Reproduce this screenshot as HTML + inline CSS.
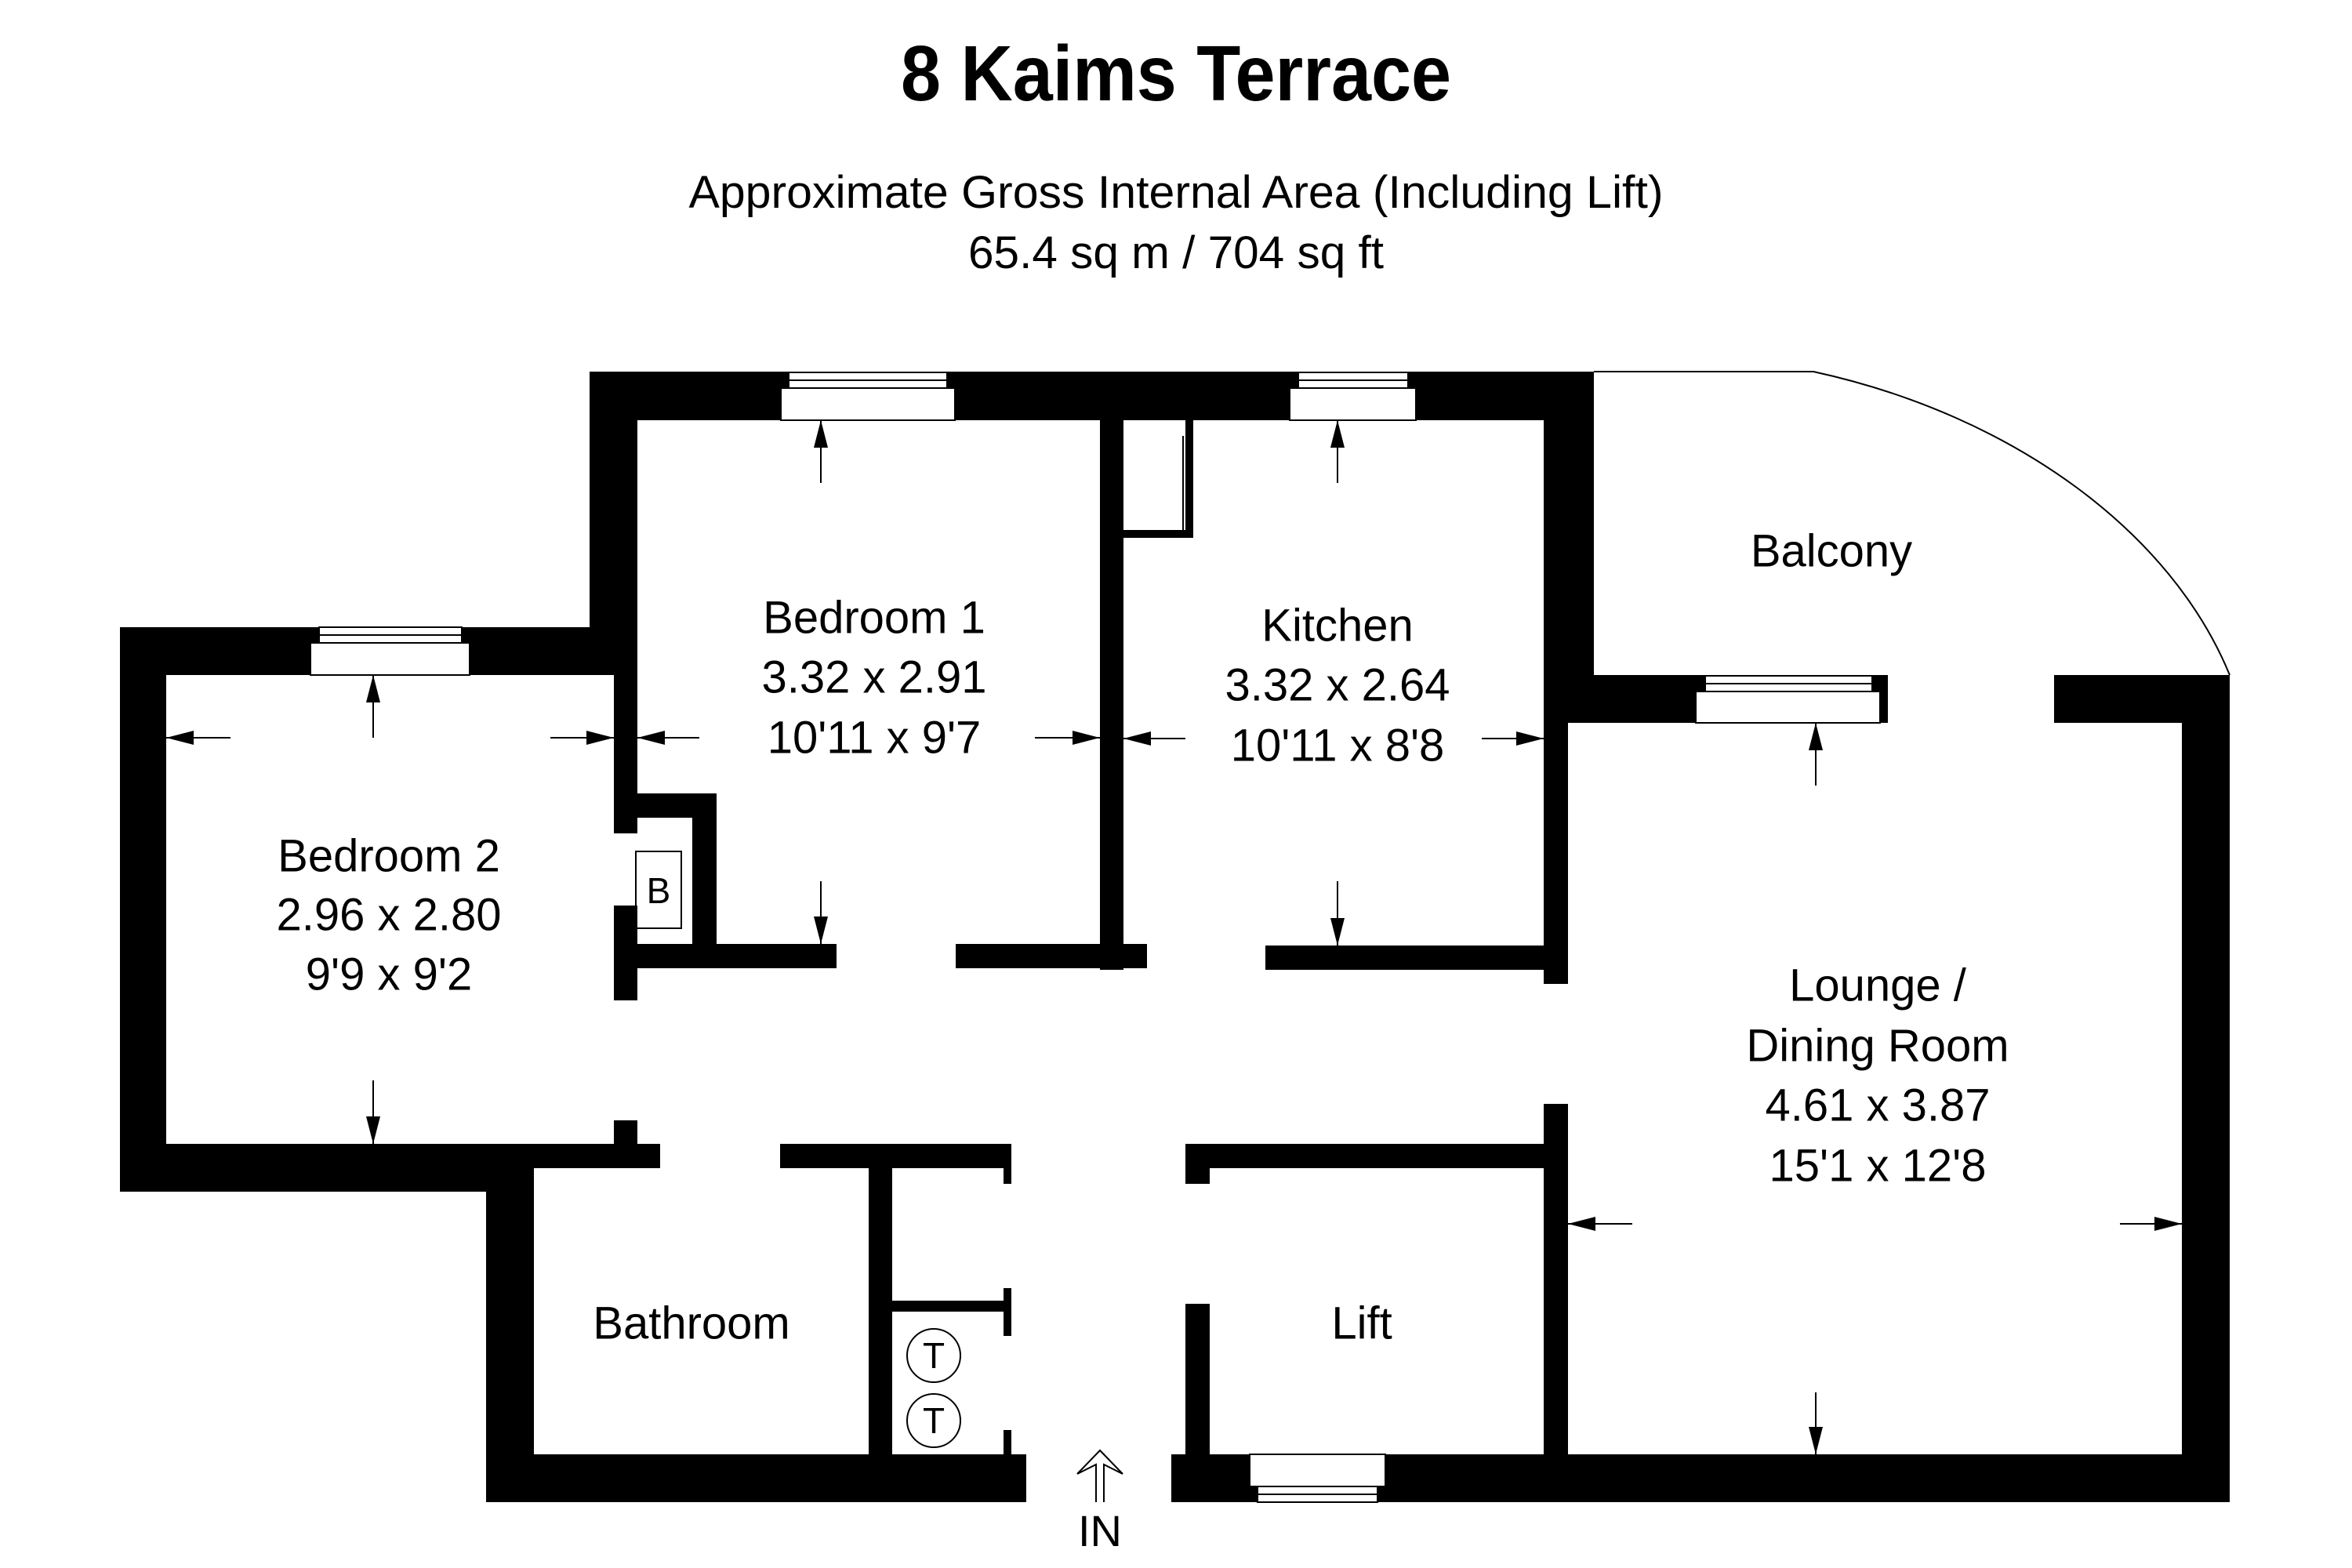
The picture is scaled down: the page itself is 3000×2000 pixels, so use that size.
<!DOCTYPE html>
<html><head><meta charset="utf-8"><style>
html,body{margin:0;padding:0;background:#fff;}
svg{display:block;}
text{font-family:"Liberation Sans",sans-serif;fill:#000;}
</style></head><body>
<svg width="3000" height="2000" viewBox="0 0 3000 2000" xmlns="http://www.w3.org/2000/svg">
<rect width="3000" height="2000" fill="#fff"/>
<text x="1500" y="128" font-family="Liberation Sans Narrow, Liberation Sans, sans-serif" font-weight="bold" font-size="100" text-anchor="middle" textLength="702" lengthAdjust="spacingAndGlyphs">8 Kaims Terrace</text>
<text x="1500" y="265" font-size="58" text-anchor="middle" textLength="1243" lengthAdjust="spacingAndGlyphs">Approximate Gross Internal Area (Including Lift)</text>
<text x="1500" y="342" font-size="58" text-anchor="middle" textLength="530" lengthAdjust="spacingAndGlyphs">65.4 sq m / 704 sq ft</text>

<!-- balcony -->
<path d="M2033,474 L2313,474 C2570,530 2770,680 2844,861" fill="none" stroke="#000" stroke-width="2"/>

<g fill="#000">
<!-- bedroom 2 -->
<rect x="153" y="800" width="660" height="61"/>
<rect x="153" y="800" width="59" height="720"/>
<rect x="153" y="1459" width="528" height="61"/>
<rect x="620" y="1459" width="222" height="31"/>
<rect x="620" y="1459" width="61" height="457"/>
<rect x="752" y="474" width="61" height="387"/>
<rect x="783" y="861" width="30" height="202"/>
<rect x="783" y="1012" width="131" height="31"/>
<rect x="883" y="1012" width="31" height="223"/>
<rect x="794" y="1204" width="273" height="31"/>
<rect x="783" y="1155" width="30" height="121"/>
<rect x="783" y="1043" width="11" height="20"/>
<rect x="783" y="1429" width="30" height="61"/>
<!-- bathroom -->
<rect x="995" y="1459" width="295" height="31"/>
<rect x="1108" y="1490" width="30" height="365"/>
<rect x="1138" y="1659" width="144" height="14"/>
<rect x="1280" y="1459" width="10" height="51"/>
<rect x="1280" y="1643" width="10" height="61"/>
<rect x="1280" y="1824" width="10" height="31"/>
<rect x="620" y="1855" width="689" height="61"/>
<!-- top -->
<rect x="752" y="474" width="1281" height="62"/>
<rect x="1403" y="536" width="30" height="701"/>
<rect x="1219" y="1204" width="244" height="31"/>
<rect x="1614" y="1206" width="386" height="31"/>
<rect x="1969" y="536" width="31" height="719"/>
<rect x="1969" y="474" width="64" height="448"/>
<rect x="1969" y="861" width="439" height="61"/>
<rect x="2620" y="861" width="224" height="61"/>
<rect x="2783" y="861" width="61" height="1055"/>
<rect x="1494" y="1855" width="1350" height="61"/>
<rect x="1969" y="1408" width="31" height="447"/>
<rect x="1512" y="1459" width="457" height="31"/>
<rect x="1512" y="1459" width="31" height="51"/>
<rect x="1512" y="1663" width="31" height="192"/>
</g>

<!-- kitchen cupboard -->
<g fill="none" stroke="#000">
<rect x="1433" y="676" width="89" height="10" fill="#000" stroke="none"/>
<rect x="1512" y="536" width="10" height="150" fill="#000" stroke="none"/>
<line x1="1509" y1="556" x2="1509" y2="676" stroke-width="2"/>
</g>

<!-- windows -->
<g fill="#fff" stroke="#000" stroke-width="2">
<rect x="407" y="800" width="182" height="20"/><line x1="407" y1="810" x2="589" y2="810"/>
<rect x="396" y="820" width="203" height="41"/>
<rect x="1006" y="475" width="202" height="20"/><line x1="1006" y1="485" x2="1208" y2="485"/>
<rect x="996" y="495" width="222" height="41"/>
<rect x="1656" y="475" width="140" height="20"/><line x1="1656" y1="485" x2="1796" y2="485"/>
<rect x="1645" y="495" width="161" height="41"/>
<rect x="2175" y="862" width="213" height="20"/><line x1="2175" y1="872" x2="2388" y2="872"/>
<rect x="2163" y="882" width="235" height="40"/>
<rect x="1594" y="1855" width="173" height="41"/>
<rect x="1604" y="1896" width="153" height="20"/><line x1="1604" y1="1906" x2="1757" y2="1906"/>
</g>

<!-- B box and T circles -->
<rect x="811" y="1086" width="58" height="98" fill="none" stroke="#000" stroke-width="2"/>
<text x="840" y="1152" font-size="46" text-anchor="middle">B</text>
<circle cx="1191" cy="1729" r="34" fill="none" stroke="#000" stroke-width="2"/>
<circle cx="1191" cy="1812" r="34" fill="none" stroke="#000" stroke-width="2"/>
<text x="1191" y="1745" font-size="46" text-anchor="middle">T</text>
<text x="1191" y="1828" font-size="46" text-anchor="middle">T</text>

<!-- dimension arrows -->
<g stroke="#000" stroke-width="2">
<line x1="212" y1="941" x2="294" y2="941"/><line x1="702" y1="941" x2="783" y2="941"/>
<line x1="476" y1="861" x2="476" y2="941"/><line x1="476" y1="1378" x2="476" y2="1459"/>
<line x1="813" y1="941" x2="892" y2="941"/><line x1="1320" y1="941" x2="1403" y2="941"/>
<line x1="1047" y1="536" x2="1047" y2="616"/><line x1="1047" y1="1124" x2="1047" y2="1204"/>
<line x1="1433" y1="942" x2="1512" y2="942"/><line x1="1890" y1="942" x2="1969" y2="942"/>
<line x1="1706" y1="536" x2="1706" y2="616"/><line x1="1706" y1="1124" x2="1706" y2="1206"/>
<line x1="2316" y1="922" x2="2316" y2="1002"/><line x1="2000" y1="1561" x2="2082" y2="1561"/>
<line x1="2704" y1="1561" x2="2783" y2="1561"/><line x1="2316" y1="1776" x2="2316" y2="1855"/>
</g>
<g fill="#000">
<polygon points="212,941 247,932 247,950"/><polygon points="783,941 748,932 748,950"/>
<polygon points="476,861 467,896 485,896"/><polygon points="476,1459 467,1424 485,1424"/>
<polygon points="813,941 848,932 848,950"/><polygon points="1403,941 1368,932 1368,950"/>
<polygon points="1047,536 1038,571 1056,571"/><polygon points="1047,1204 1038,1169 1056,1169"/>
<polygon points="1433,942 1468,933 1468,951"/><polygon points="1969,942 1934,933 1934,951"/>
<polygon points="1706,536 1697,571 1715,571"/><polygon points="1706,1206 1697,1171 1715,1171"/>
<polygon points="2316,922 2307,957 2325,957"/><polygon points="2000,1561 2035,1552 2035,1570"/>
<polygon points="2783,1561 2748,1552 2748,1570"/><polygon points="2316,1855 2307,1820 2325,1820"/>
</g>

<!-- IN arrow -->
<path d="M1398,1916 L1398,1868 L1374,1880 L1403,1850 L1432,1880 L1408,1868 L1408,1916" fill="none" stroke="#000" stroke-width="2"/>
<text x="1403" y="1972" font-size="56" text-anchor="middle">IN</text>

<!-- room labels -->
<g font-size="58" text-anchor="middle" dominant-baseline="central">
<text x="1115" y="788">Bedroom 1</text>
<text x="1115" y="864">3.32 x 2.91</text>
<text x="1115" y="941">10'11 x 9'7</text>
<text x="1706" y="798">Kitchen</text>
<text x="1706" y="874">3.32 x 2.64</text>
<text x="1706" y="951">10'11 x 8'8</text>
<text x="496" y="1092">Bedroom 2</text>
<text x="496" y="1167">2.96 x 2.80</text>
<text x="496" y="1243">9'9 x 9'2</text>
<text x="882" y="1688">Bathroom</text>
<text x="1737" y="1688">Lift</text>
<text x="2336" y="703">Balcony</text>
<text x="2395" y="1257">Lounge /</text>
<text x="2395" y="1334">Dining Room</text>
<text x="2395" y="1410">4.61 x 3.87</text>
<text x="2395" y="1487">15'1 x 12'8</text>
</g>
</svg>
</body></html>
